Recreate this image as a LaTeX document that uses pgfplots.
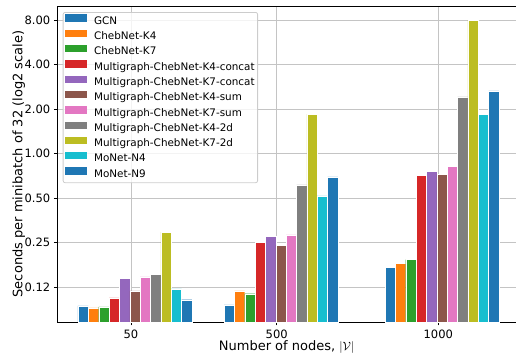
\documentclass[border=0pt]{standalone}
\usepackage{fontspec}
\setmainfont{DejaVu Sans}
\usepackage{pgfplots}
\pgfplotsset{compat=1.18}
\definecolor{c0}{HTML}{1F77B4}
\definecolor{c1}{HTML}{FF7F0E}
\definecolor{c2}{HTML}{2CA02C}
\definecolor{c3}{HTML}{D62728}
\definecolor{c4}{HTML}{9467BD}
\definecolor{c5}{HTML}{8C564B}
\definecolor{c6}{HTML}{E377C2}
\definecolor{c7}{HTML}{7F7F7F}
\definecolor{c8}{HTML}{BCBD22}
\definecolor{c9}{HTML}{17BECF}
\definecolor{legedge}{HTML}{CCCCCC}
\definecolor{gridc}{HTML}{C4C4C4}
\newcommand{\tickfont}{\fontsize{11.5}{13}\selectfont}
\pgfplotsset{
  myleg/.style={legend image code/.code={\fill[##1,draw=none,fill opacity=1,sharp corners] (0pt,0pt) rectangle (21.6pt,7.3pt);}},
  mybar/.style={fill=#1, draw=white, line width=0.4pt, bar shift=0pt, myleg},
}
\begin{document}
\begin{tikzpicture}
\begin{axis}[
  name=ax,
  scale only axis, width=458.7pt, height=316pt,
  xmin=57.3, xmax=516,
  ymode=log, log basis y=2, ymin=0.0728, ymax=9.95,
  log origin y=infty,
  ybar, bar width=10.36,
  ytick={0.125,0.25,0.5,1,2,4,8},
  yticklabels={{\tickfont 0.12},{\tickfont 0.25},{\tickfont 0.50},{\tickfont 1.00},{\tickfont 2.00},{\tickfont 4.00},{\tickfont 8.00}},
  xtick={131,276.7,438.3}, xticklabels={{\tickfont 50},{\tickfont 500},{\tickfont 1000}},
  axis x line*=box, axis y line*=left, xtick pos=left,
  axis line style={-, line width=0.9pt, black},
  tick align=outside, major tick length=3.5pt,
  tick style={black, line width=0.8pt},
  /pgf/number format/assume math mode=true,
  xticklabel style={font=\tickfont, yshift=-1pt},
  yticklabel style={font=\tickfont},
  grid=major, grid style={gridc, line width=0.9pt},
  xlabel={Number of nodes, $|\mathcal{V}|$},
  ylabel={Seconds per minibatch of 32 (log2 scale)},
  every axis x label/.style={at={(axis description cs:0.5,0)}, yshift=-24.7pt, anchor=center, font=\fontsize{13}{15}\selectfont},
  every axis y label/.style={at={(axis description cs:-0.084,0.5)}, rotate=90, anchor=center, font=\fontsize{13}{15}\selectfont},
  legend cell align=left,
  legend style={at={(axis description cs:0.0118,0.981)}, anchor=north west,
    draw=legedge, line width=0.8pt, rounded corners=2pt, fill=white, fill opacity=0.8, text opacity=1,
    inner xsep=2pt, inner ysep=2pt, row sep=2pt, column sep=6.4pt,
    font=\fontsize{10.4}{12}\selectfont,
    nodes={inner sep=1pt, text height=7.5pt, text depth=2.5pt}},
]
\addplot[mybar=c0] coordinates {(83.18,0.0935) (229.18,0.095) (390.18,0.170)};
\addlegendentry{GCN}
\addplot[mybar=c1] coordinates {(93.54,0.0906) (239.54,0.118) (400.54,0.181)};
\addlegendentry{ChebNet-K4}
\addplot[mybar=c2] coordinates {(103.9,0.092) (249.9,0.113) (410.9,0.192)};
\addlegendentry{ChebNet-K7}
\addplot[mybar=c3] coordinates {(114.26,0.106) (260.26,0.252) (421.26,0.711)};
\addlegendentry{Multigraph-ChebNet-K4-concat}
\addplot[mybar=c4] coordinates {(124.62,0.144) (270.62,0.277) (431.62,0.763)};
\addlegendentry{Multigraph-ChebNet-K7-concat}
\addplot[mybar=c5] coordinates {(134.98,0.118) (280.98,0.241) (441.98,0.722)};
\addlegendentry{Multigraph-ChebNet-K4-sum}
\addplot[mybar=c6] coordinates {(145.34,0.147) (291.34,0.282) (452.34,0.817)};
\addlegendentry{Multigraph-ChebNet-K7-sum}
\addplot[mybar=c7] coordinates {(155.7,0.152) (301.7,0.615) (462.7,2.42)};
\addlegendentry{Multigraph-ChebNet-K4-2d}
\addplot[mybar=c8] coordinates {(166.06,0.295) (312.06,1.85) (473.06,8.0)};
\addlegendentry{Multigraph-ChebNet-K7-2d}
\addplot[mybar=c9] coordinates {(176.42,0.122) (322.42,0.518) (483.42,1.85)};
\addlegendentry{MoNet-N4}
\addplot[mybar=c0] coordinates {(186.78,0.103) (332.78,0.697) (493.78,2.66)};
\addlegendentry{MoNet-N9}
\end{axis}
\pgfresetboundingbox
\path ([xshift=-57.3pt,yshift=-32pt]ax.south west) rectangle ([yshift=6pt]ax.north east);
\end{tikzpicture}
\end{document}
